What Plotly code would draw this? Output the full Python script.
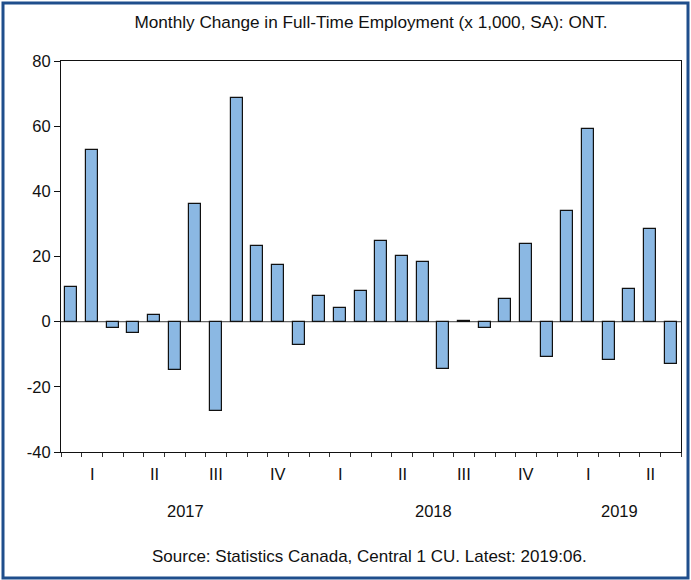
import numpy as np
import plotly.graph_objects as go

title = "Monthly Change in Full-Time Employment (x 1,000, SA): ONT."
source = "Source: Statistics Canada, Central 1 CU. Latest: 2019:06."

months = [f"{y}:{m:02d}" for y in (2017, 2018) for m in range(1, 13)] + [f"2019:{m:02d}" for m in range(1, 7)]
values = [10.6, 52.8, -1.9, -3.4, 2.0, -14.8, 36.2, -27.3, 68.6, 23.2, 17.5, -7.3,
          7.9, 4.1, 9.4, 24.7, 20.1, 18.3, -14.5, 0.3, -1.9, 7.0, 23.8, -10.8,
          33.9, 59.2, -11.7, 10.1, 28.4, -12.9]
quarter_labels = ["I", "II", "III", "IV", "I", "II", "III", "IV", "I", "II"]
year_labels = ["2017", "2018", "2019"]
year_months = [12, 12, 6]
y_ticks = [-40, -20, 0, 20, 40, 60, 80]
y_tick_text = ["-40", "-20", "0", "20", "40", "60", "80"]

n = len(values)
xpos = np.arange(n) + 0.5

W, H = 691, 580
L, R, T, B = 61, 10, 61, 128
pw, ph = W - L - R, H - T - B

def px_x(p):
    return (p - L) / pw

def px_y(p):
    return (H - B - p) / ph

fig = go.Figure()
fig.add_trace(go.Bar(
    x=xpos, y=values, width=0.58,
    marker=dict(color="#8BB8E3", line=dict(color="#111111", width=1.2)),
    hovertext=months, showlegend=False,
))

font = "Liberation Sans, Arial, sans-serif"
fs = 16.5
annotations = []
for i, q in enumerate(quarter_labels):
    annotations.append(dict(x=3 * i + 1.5, y=px_y(474), xref="x", yref="paper", text=q,
                            showarrow=False, yanchor="middle",
                            font=dict(size=fs, color="#111111", family=font)))
start = 0
for yl, nm in zip(year_labels, year_months):
    annotations.append(dict(x=start + nm / 2, y=px_y(511), xref="x", yref="paper", text=yl,
                            showarrow=False, yanchor="middle",
                            font=dict(size=fs, color="#111111", family=font)))
    start += nm
annotations.append(dict(x=px_x(369), y=px_y(556), xref="paper", yref="paper", text=source,
                        showarrow=False, yanchor="middle", xanchor="center",
                        font=dict(size=17, color="#111111", family=font)))

shapes = [
    dict(type="rect", xref="paper", yref="paper",
         x0=px_x(3), x1=px_x(688), y0=px_y(3), y1=px_y(578),
         line=dict(color="#1F4E8C", width=3), fillcolor="rgba(0,0,0,0)"),
    dict(type="line", xref="paper", yref="y", x0=0, x1=1, y0=0, y1=0,
         line=dict(color="#666666", width=1.2), layer="below"),
]

fig.update_layout(
    width=W, height=H,
    margin=dict(l=L, r=R, t=T, b=B),
    paper_bgcolor="white", plot_bgcolor="white",
    title=dict(text=title, x=(L + pw / 2) / W, xanchor="center",
               y=1 - 22 / H, yanchor="middle",
               font=dict(size=17.2, color="#111111", family=font)),
    font=dict(family=font, size=fs, color="#111111"),
    bargap=0,
    xaxis=dict(range=[0, n], tickvals=list(range(0, n + 1, 3)), ticktext=[""] * (n // 3 + 1),
               ticks="outside", ticklen=9, tickwidth=1.2, tickcolor="#111111",
               minor=dict(tickvals=list(range(0, n + 1)), ticks="outside", ticklen=4,
                          tickwidth=1, tickcolor="#333333"),
               showline=True, linecolor="#111111", linewidth=1.2, mirror=True,
               showgrid=False, zeroline=False, fixedrange=True),
    yaxis=dict(range=[-40, 80], tickvals=y_ticks, ticktext=y_tick_text,
               ticks="outside", ticklen=6,
               tickcolor="#111111", tickwidth=1.2,
               showline=True, linecolor="#111111", linewidth=1.2, mirror=True,
               showgrid=False, zeroline=False, fixedrange=True,
               tickfont=dict(size=fs, color="#111111", family=font)),
    annotations=annotations,
    shapes=shapes,
)

fig.write_html("out.html", config={"displayModeBar": False},
               post_script="document.body.style.margin='0';")
